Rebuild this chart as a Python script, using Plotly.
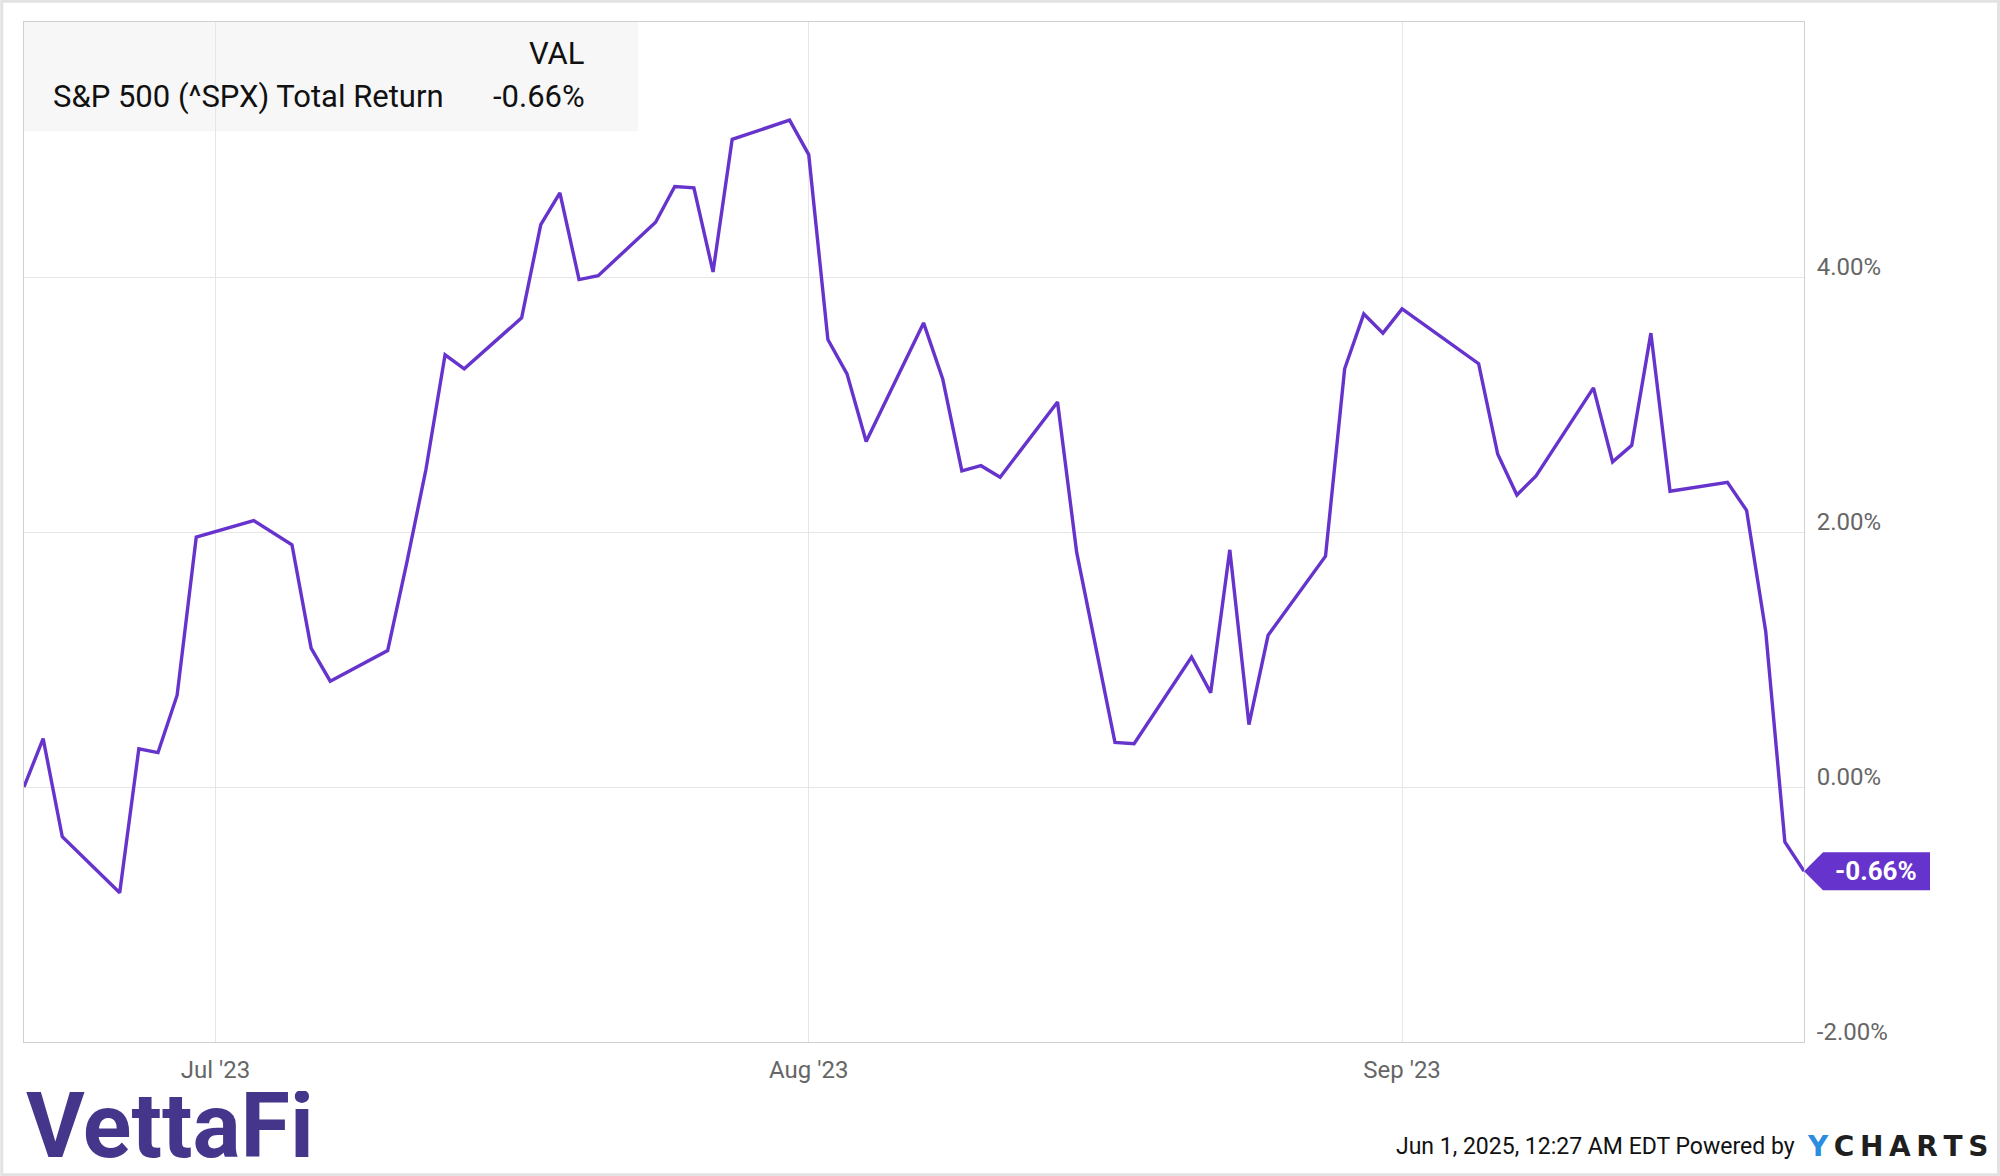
import plotly.graph_objects as go

# ---- data ----
dates = [
    "2023-06-21", "2023-06-22", "2023-06-23", "2023-06-26", "2023-06-27", "2023-06-28", "2023-06-29", "2023-06-30",
    "2023-07-03", "2023-07-05", "2023-07-06", "2023-07-07", "2023-07-10", "2023-07-11", "2023-07-12", "2023-07-13",
    "2023-07-14", "2023-07-17", "2023-07-18", "2023-07-19", "2023-07-20", "2023-07-21", "2023-07-24", "2023-07-25",
    "2023-07-26", "2023-07-27", "2023-07-28", "2023-07-31",
    "2023-08-01", "2023-08-02", "2023-08-03", "2023-08-04", "2023-08-07", "2023-08-08", "2023-08-09", "2023-08-10",
    "2023-08-11", "2023-08-14", "2023-08-15", "2023-08-16", "2023-08-17", "2023-08-18", "2023-08-21", "2023-08-22",
    "2023-08-23", "2023-08-24", "2023-08-25", "2023-08-28", "2023-08-29", "2023-08-30", "2023-08-31",
    "2023-09-01", "2023-09-05", "2023-09-06", "2023-09-07", "2023-09-08", "2023-09-11", "2023-09-12", "2023-09-13",
    "2023-09-14", "2023-09-15", "2023-09-18", "2023-09-19", "2023-09-20", "2023-09-21", "2023-09-22",
]
total_return = [
    0.00, 0.38, -0.39, -0.83, 0.30, 0.27, 0.72, 1.96,
    2.09, 1.90, 1.09, 0.83, 1.07, 1.76, 2.49, 3.39,
    3.28, 3.68, 4.41, 4.66, 3.98, 4.01, 4.43, 4.71,
    4.70, 4.04, 5.08, 5.23,
    4.96, 3.51, 3.24, 2.71, 3.64, 3.20, 2.48, 2.52,
    2.43, 3.02, 1.84, 1.10, 0.35, 0.34, 1.02, 0.74,
    1.86, 0.49, 1.19, 1.81, 3.28, 3.71, 3.56,
    3.75, 3.32, 2.61, 2.29, 2.44, 3.13, 2.55, 2.68,
    3.56, 2.32, 2.39, 2.17, 1.22, -0.43, -0.66,
]
series_name = "S&P 500 (^SPX) Total Return"
y_ticks = [-2, 0, 2, 4]
y_tick_text = [f"{v:.2f}%" for v in y_ticks]
y_range = [-2, 6]
x_range = ["2023-06-21", "2023-09-22"]

PURPLE = "#6633cc"
FONT = "Roboto"
THIN = "\u2009"

fig = go.Figure()
fig.add_trace(go.Scatter(
    x=dates, y=total_return, mode="lines",
    line=dict(color=PURPLE, width=3.4),
    name=series_name, hoverinfo="skip", showlegend=False,
))

last_val = total_return[-1]
h = 0.149  # half height of value tag in y units

shapes = [
    # legend box background
    dict(type="rect", xref="paper", yref="paper", x0=0, x1=0.345, y0=0.893, y1=1,
         fillcolor="#f7f7f7", line=dict(width=0), layer="below"),
    # value tag on the right axis
    dict(type="path", xref="paper", yref="y",
         path=(f"M 1.0,{last_val} L 1.0107,{last_val + h} L 1.0708,{last_val + h} "
               f"L 1.0708,{last_val - h} L 1.0107,{last_val - h} Z"),
         fillcolor=PURPLE, line=dict(width=0), layer="above"),
    # outer figure border
    dict(type="rect", xref="paper", yref="paper", x0=-0.0125, x1=1.1093, y0=-0.1302, y1=1.0203,
         fillcolor="rgba(0,0,0,0)", line=dict(color="#e2e2e2", width=3), layer="above"),
]

ycharts = '<span style="color:#2b8de0">Y</span>' + THIN + THIN.join("CHARTS")

annotations = [
    dict(text="VAL", xref="paper", yref="paper", x=0.3163, y=0.969, xanchor="right", yanchor="middle",
         showarrow=False, font=dict(family=FONT, size=31, color="#111")),
    dict(text=series_name, xref="paper", yref="paper", x=0.0152, y=0.9265, xanchor="left", yanchor="middle",
         showarrow=False, font=dict(family=FONT, size=31, color="#111")),
    dict(text=f"{last_val:.2f}%", xref="paper", yref="paper", x=0.3163, y=0.9265, xanchor="right", yanchor="middle",
         showarrow=False, font=dict(family=FONT, size=31, color="#111")),
    dict(text=f"<b>{last_val:.2f}%</b>", xref="paper", yref="y", x=1.0407, y=last_val,
         xanchor="center", yanchor="middle", showarrow=False,
         font=dict(family=FONT, size=26, color="white")),
    dict(text="<b>VettaFi</b>", xref="paper", yref="paper", x=0.0, y=-0.0819, xanchor="left", yanchor="middle",
         height=70, valign="middle",
         showarrow=False, font=dict(family=FONT, size=90, color="#45368c")),
    dict(text="Jun 1, 2025, 12:27 AM EDT Powered by", xref="paper", yref="paper", x=0.9961, y=-0.102,
         xanchor="right", yanchor="middle", showarrow=False, font=dict(family=FONT, size=23, color="#111")),
    dict(text="<b>" + ycharts + "</b>",
         xref="paper", yref="paper", x=1.0006, y=-0.102, xanchor="left", yanchor="middle",
         showarrow=False, font=dict(family="DejaVu Sans", size=28, color="#1f1f1f")),
]

fig.update_layout(
    width=2000, height=1176,
    margin=dict(l=24, r=196, t=22, b=134, pad=0),
    paper_bgcolor="white", plot_bgcolor="white",
    shapes=shapes, annotations=annotations,
    font=dict(family=FONT),
    showlegend=False,
)
fig.update_xaxes(
    type="date", range=x_range,
    tick0="2023-07-01", dtick="M1", tickformat="%b '%y",
    showgrid=True, gridcolor="#e6e6e6", gridwidth=1,
    showline=True, linecolor="#d0d0d0", linewidth=1, mirror=True,
    ticks="", ticklabelstandoff=6,
    tickfont=dict(family=FONT, size=24, color="#666"),
    zeroline=False,
)
fig.update_yaxes(
    side="right", range=y_range, tickvals=y_ticks, ticktext=y_tick_text,
    showgrid=True, gridcolor="#e6e6e6", gridwidth=1,
    showline=True, linecolor="#d0d0d0", linewidth=1, mirror=True,
    ticks="", ticklabelstandoff=7, ticklabelshift=-10,
    tickfont=dict(family=FONT, size=24, color="#666"),
    zeroline=False,
)

fig.write_html(
    "out.html",
    config={"displayModeBar": False},
    post_script="document.body.style.margin='0';document.body.style.overflow='hidden';",
)
